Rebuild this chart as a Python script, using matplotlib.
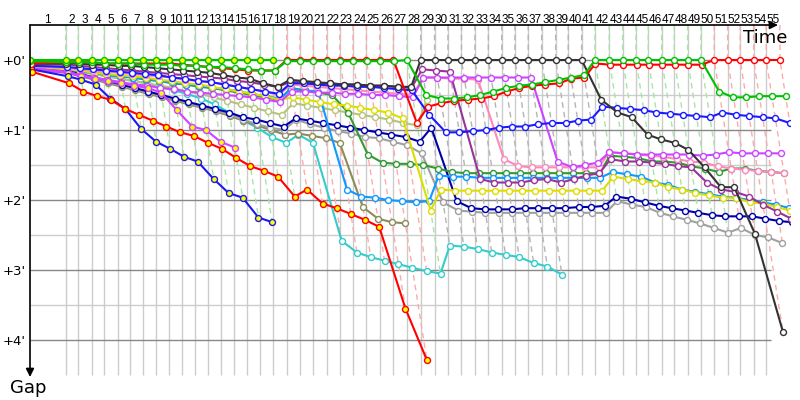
#!/usr/bin/env python3
"""Race gap chart: gap to the leader per lap, plotted against race time."""

import matplotlib
matplotlib.use("Agg")
import matplotlib.pyplot as plt

# leader lap times in seconds (lap 1 includes the start)
lap_times = [194.7, 68.7, 73.1, 68.7, 73.1, 68.7, 70.9, 69.3, 70.9, 69.3,
             72.5, 69.3, 72.5, 69.3, 70.9, 70.9, 74.2, 73.1, 72.5, 72.5,
             73.1, 71.5, 72.0, 73.1, 72.5, 75.3, 73.6, 74.7, 75.8, 73.1,
             73.6, 73.6, 73.1, 73.1, 72.0, 72.5, 73.1, 76.4, 68.7, 73.1,
             72.5, 78.0, 73.1, 72.5, 67.1, 73.1, 68.7, 73.1, 72.5, 72.5,
             73.1, 68.7, 73.1, 68.7, 74.7]

# gap to the leader in seconds, one value per lap starting at lap 0
green_a = [0, 0, 0, 0, 0, 0, 0, 0, 0, 0, 0, 0, 0, 0, 0, 0, 0, 0]
green_b = [1, 2, 2, 2, 3, 3, 3, 4, 4, 4, 5, 5, 6, 6, 7, 8, 9, 9,
           1, 1, 1, 1, 1, 1, 1, 1, 1, 0,
           30, 33, 33, 32, 30, 27, 24, 22, 21, 19, 17, 15, 13,
           0, 0, 0, 0, 0, 0, 0, 0, 0,
           27, 32, 32, 31, 31, 31]
red_a = [3, 2, 2, 2, 3, 3, 3, 3, 3, 3, 4, 5, 6, 7, 8, 9, 9, 9,
         0, 0, 0, 0, 0, 0, 0, 0, 0, 54,
         40, 37, 35, 34, 33, 31, 27, 24, 22, 21, 20, 16, 15,
         3, 4, 4, 4, 4, 4, 4, 4, 4,
         0, 0, 0, 0, 0, 0]
red_b = [10, 20, 27, 31, 34, 42, 47, 52, 57, 62, 65, 71, 76, 84, 91, 95, 100, 117,
         111, 123, 127, 132, 137, 143, 213, 257]
blue_a = [8, 14, 17, 21, 33, 42, 59, 70, 76, 83, 87, 102, 114, 118, 135, 139]
blue_b = [5, 6, 7, 8, 9, 10, 11, 12, 13, 15, 16, 18, 19, 21, 23, 25, 27, 29,
          20, 20, 21, 22, 22, 23, 23, 24, 25, 26, 47,
          62, 62, 61, 60, 58, 57, 57, 55, 54, 54, 52, 51,
          40, 41, 42, 43, 45, 46, 47, 48, 49, 45, 47, 48, 49, 50, 54]
navy = [6, 9, 12, 15, 18, 21, 24, 27, 30, 33, 36, 39, 42, 45, 49, 51, 54, 57,
        50, 52, 54, 56, 58, 60, 62, 64, 66, 70, 58,
        121, 127, 128, 128, 128, 127, 127, 127, 127, 126, 126, 125,
        117, 119, 122, 125, 127, 129, 131, 133, 134, 134, 134, 136, 138, 139]
grey = [7, 10, 13, 16, 19, 22, 25, 28, 31, 34, 37, 40, 43, 47, 51, 55, 58, 60,
        51, 55, 58, 61, 63, 66, 67, 70, 73, 80, 122,
        129, 130, 131, 131, 131, 131, 131, 131, 131, 131, 131, 131,
        121, 124, 126, 131, 134, 137, 140, 144, 148, 144, 150, 152, 157]
black = [3, 3, 3, 4, 4, 5, 5, 6, 7, 8, 9, 10, 11, 13, 15, 16, 20, 23,
         17, 18, 19, 20, 21, 21, 22, 22, 23, 23,
         0, 0, 0, 0, 0, 0, 0, 0, 0, 0, 0, 0, 0,
         34, 45, 49, 64, 68, 71, 77, 92, 109, 109, 149, 233]
purple = [4, 4, 5, 6, 7, 8, 9, 10, 11, 12, 13, 14, 15, 16, 18, 19, 21, 23,
          19, 19, 20, 20, 21, 21, 22, 22, 23, 24,
          8, 9, 10, 102, 105, 105, 105, 103, 102, 105, 102, 99, 97,
          85, 87, 87, 88, 89, 91, 92, 105, 111, 113, 117, 124, 130, 136]
pink = [5, 7, 8, 9, 10, 11, 12, 13, 14, 15, 17, 18, 19, 21, 23, 25, 27, 30,
        21, 22, 23, 24, 25, 26, 27, 28, 29, 30,
        15, 15, 16, 16, 17, 85, 91, 92, 92, 92, 92, 92, 92,
        79, 80, 81, 82, 83, 85, 87, 88, 91, 93, 94, 95, 96, 97]
yellow = [6, 8, 9, 11, 12, 13, 14, 15, 17, 18, 20, 21, 23, 25, 27, 29, 31, 34,
          32, 34, 36, 38, 39, 41, 43, 45, 50, 129, 111,
          112, 112, 112, 112, 112, 112, 112, 112, 112, 112, 112, 112,
          100, 102, 104, 105, 109, 111, 114, 116, 118, 118, 122, 123, 126, 129]
light_blue = [6, 8, 10, 11, 13, 14, 15, 16, 18, 19, 21, 22, 24, 25, 27, 29, 31, 33,
              25, 26, 27, 111, 117, 118, 120, 121, 122, 121, 99,
              100, 100, 101, 101, 101, 101, 101, 101, 101, 101, 101, 101,
              96, 98, 100, 105, 107, 111, 113, 115, 117, 118, 120, 122, 124, 127]
magenta_a = [7, 10, 13, 15, 17, 19, 21, 22, 24, 25, 27, 28, 29, 30, 31, 32, 34, 36,
             27, 27, 28, 28, 29, 29, 30, 30, 31, 32,
             15, 15, 15, 15, 15, 15, 15, 15, 15, 87, 92, 90, 88,
             79, 80, 81, 81, 81, 81, 81, 82, 81, 79, 80, 80, 80, 80]
magenta_b = [8, 11, 14, 16, 18, 20, 22, 24, 28, 43, 57, 60, 70, 75]
cyan = [6, 8, 10, 12, 14, 16, 18, 20, 23, 26, 29, 33, 38, 45, 52, 58, 66, 71,
        64, 71, 155, 165, 169, 172, 175, 178, 181, 183,
        159, 160, 162, 165, 167, 169, 174, 177, 184]
light_olive = [6, 8, 10, 12, 14, 16, 18, 20, 22, 24, 27, 29, 32, 35, 38, 41, 44, 47,
               37, 39, 41, 43, 45, 47, 49, 51, 54, 56, 34]
olive = [8, 11, 14, 17, 20, 23, 26, 29, 32, 35, 38, 41, 44, 48, 52, 56, 60, 64,
         63, 65, 67, 71, 126, 136, 139, 140]
dark_green = [5, 7, 9, 11, 12, 14, 15, 17, 18, 20, 21, 23, 24, 26, 28, 30, 32, 34,
              24, 26, 28, 30, 45, 81, 88, 89, 89, 90, 93,
              96, 97, 97, 97, 97, 97, 97, 97, 97, 97, 97, 97,
              82, 83, 84, 87, 87, 88, 91, 93, 96, 93, 93, 95, 96, 97]

# (gaps, line colour, marker fill)
drivers = [
    (cyan, '#33cccc', 'white'),
    (olive, '#8c8c5a', 'white'),
    (light_olive, '#b5c47a', 'white'),
    (grey, '#a0a0a0', 'white'),
    (navy, '#0000a8', 'white'),
    (dark_green, '#339933', 'white'),
    (light_blue, '#1199ff', 'white'),
    (yellow, '#dddd00', 'white'),
    (pink, '#ff88bb', 'white'),
    (purple, '#993399', 'white'),
    (magenta_a, '#cc44ff', 'white'),
    (magenta_b, '#cc44ff', 'yellow'),
    (blue_b, '#1a1aff', 'white'),
    (blue_a, '#1a1aee', 'yellow'),
    (red_b, '#ff0000', 'yellow'),
    (black, '#333333', 'white'),
    (red_a, '#ff0000', 'white'),
    (green_b, '#00c000', 'white'),
    (green_a, '#00c000', 'yellow'),
]

# lighter shade used for the lap lines, keyed by the leader's colour
lap_line_colors = {'#00c000': '#a6e6a6', '#ff0000': '#ffaaaa', '#333333': '#b4b4b4'}

# cumulative leader time at the end of each lap
lap_end = [0.0]
for t in lap_times:
    lap_end.append(lap_end[-1] + t)

S_PER_PX = 60 / 11.0          # horizontal time scale
TOP, BOTTOM = -30, 271.7      # gap range shown (seconds)

fig = plt.figure(figsize=(8, 4), dpi=100)
ax = fig.add_axes([30 / 800, 23 / 400, 760 / 800, 352 / 400])
ax.set_xlim(0, 760 * S_PER_PX)
ax.set_ylim(BOTTOM, TOP)
for s in ax.spines.values():
    s.set_visible(False)

# grid
ax.vlines(lap_end[1:55], TOP, 270, color='#cccccc', lw=1, zorder=0)
x_end = 741 * S_PER_PX
ax.hlines([30, 90, 150, 210], 0, x_end, color='#cccccc', lw=1, zorder=0)
ax.hlines([0, 60, 120, 180, 240], 0, x_end, color='#888888', lw=1, zorder=0)

# dashed lap lines: all cars' crossings of the same lap
for lap in range(1, 56):
    pts = []
    leader_col = None
    for gaps, col, fill in drivers:
        if lap < len(gaps):
            pts.append((gaps[lap], lap_end[lap] + gaps[lap]))
            if gaps[lap] == 0:
                leader_col = col
    pts.sort()
    xs = [lap_end[lap]] + [p[1] for p in pts]
    ys = [TOP] + [p[0] for p in pts]
    ax.plot(xs, ys, ls=(0, (4, 3)), lw=1, color=lap_line_colors.get(leader_col, '#b4b4b4'),
            zorder=1)

# driver lines
for gaps, col, fill in drivers:
    xs = [lap_end[i] + g for i, g in enumerate(gaps)]
    ax.plot(xs, gaps, '-', color=col, lw=1.5, marker='o', ms=4.3, mfc=fill, mec=col,
            mew=1, zorder=3)

# axis ticks and lap labels
ax.set_xticks([])
ax.set_yticks([0, 60, 120, 180, 240])
ax.set_yticklabels(["+0'", "+1'", "+2'", "+3'", "+4'"], fontsize=9.5)
ax.tick_params(axis='y', length=0, pad=3)

trans = ax.get_xaxis_transform()
for lap in range(1, 56):
    xm = (lap_end[lap - 1] + lap_end[lap]) / 2
    ax.text(xm, 1.015, str(lap), transform=trans, ha='center', va='center',
            fontsize=8.5, family='Liberation Sans', clip_on=False)

# axis arrows
ax.annotate('', xy=(748 / 760, 1), xytext=(0, 1), xycoords='axes fraction',
            arrowprops=dict(arrowstyle='-|>', color='black', lw=1.2,
                            mutation_scale=12, shrinkA=0, shrinkB=0))
ax.annotate('', xy=(0, 0), xytext=(0, 1), xycoords='axes fraction',
            arrowprops=dict(arrowstyle='-|>', color='black', lw=1.2,
                            mutation_scale=12, shrinkA=0, shrinkB=0))
fig.text(765 / 800, 1 - 38 / 400, 'Time', ha='center', va='center', fontsize=13)
fig.text(28 / 800, 1 - 388 / 400, 'Gap', ha='center', va='center', fontsize=13)

fig.savefig('out.png', dpi=100, facecolor='white')
